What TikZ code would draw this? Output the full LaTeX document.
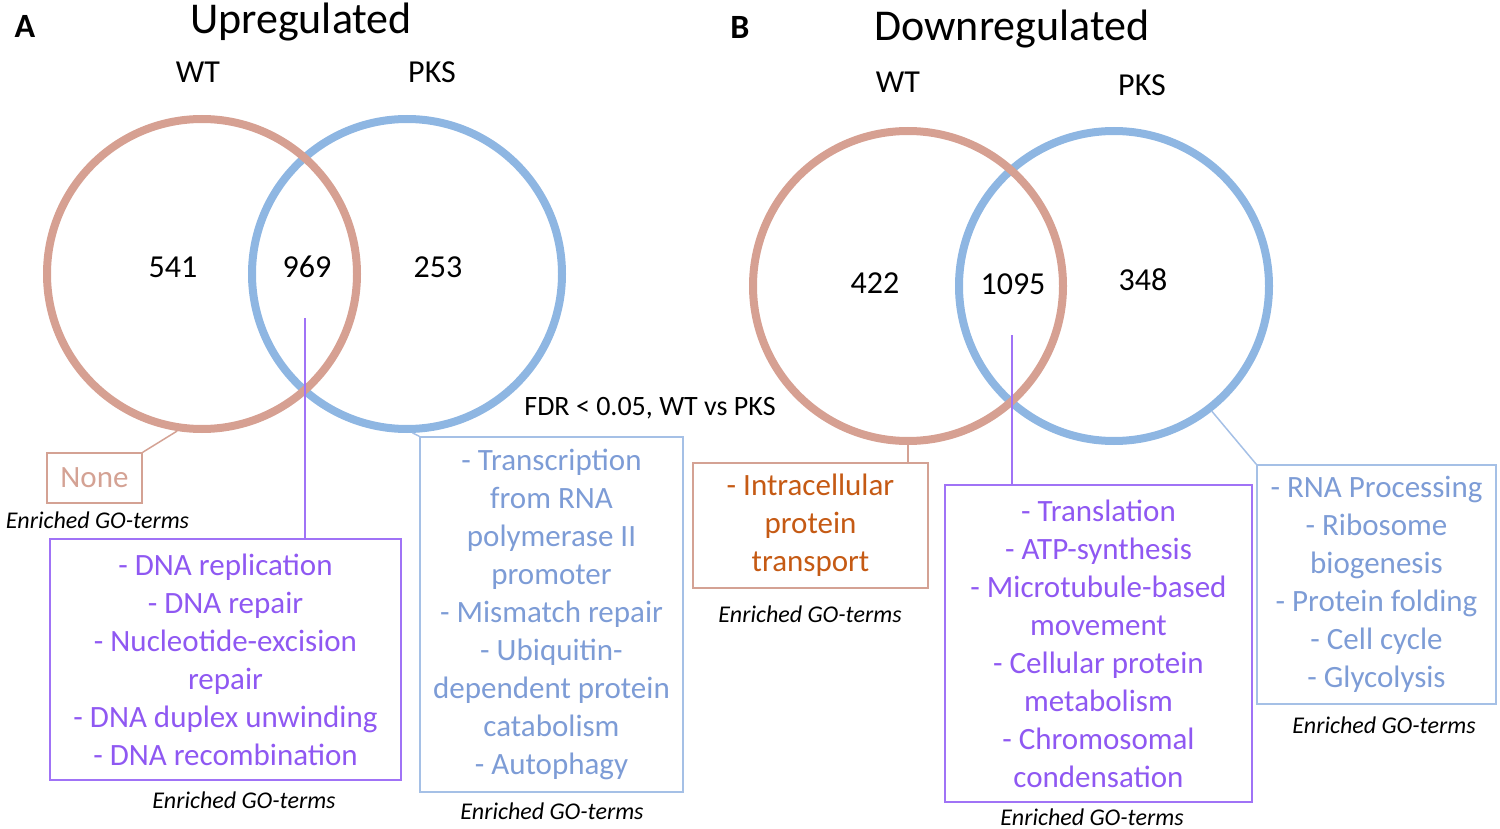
\documentclass[tikz,border=0pt]{standalone}
\usepackage{fontspec}
\setmainfont{Carlito}
\usepackage{tikz}
\usetikzlibrary{positioning}
\definecolor{wtrose}{RGB}{214, 160, 146}
\definecolor{pksblue}{RGB}{142, 182, 226}
\definecolor{nonerose}{RGB}{212, 162, 148}
\definecolor{gorust}{RGB}{197, 90, 20}
\definecolor{golilac}{RGB}{143, 88, 242}
\definecolor{lilacline}{RGB}{160, 115, 246}
\definecolor{gosky}{RGB}{125, 156, 214}
\definecolor{skyline}{RGB}{165, 192, 230}

\begin{document}
\begin{tikzpicture}[x=0.5pt, y=-0.5pt,
		vennset/.style={circle, draw, line width=4pt, minimum size=155pt, inner sep=0pt},
		setcount/.style={anchor=base, font=\fontsize{16}{19}\selectfont},
		setname/.style={anchor=base, font=\fontsize{16}{19}\selectfont},
		panellabel/.style={anchor=base, font=\fontsize{17}{20}\selectfont\bfseries},
		panelhead/.style={anchor=base, font=\fontsize{22}{27}\selectfont},
		goterm/.style={draw, line width=0.75pt, align=center, inner sep=0pt, font=\fontsize{15.5}{19}\selectfont},
		gocap/.style={anchor=base, font=\fontsize{12}{14}\selectfont\itshape},
		golink/.style={line width=0.75pt}]
			\useasboundingbox (0,0) rectangle (1500,829);

			% Headings
			\node[panellabel] (labA) at (25,38) {A};
			\node[panelhead] (headA) at (301,34) {Upregulated};
			\node[panellabel] (labB) at (740,39) {B};
			\node[panelhead] (headB) at (1012,41) {Downregulated};

			% Venn sets
			\node[vennset, draw=pksblue] (pksA) at (407,274) {};
			\node[vennset, draw=wtrose] (wtA) at (202,274) {};
			\node[vennset, draw=pksblue] (pksB) at (1114,286) {};
			\node[vennset, draw=wtrose] (wtB) at (908,286) {};

			\node[setname] (wtnameA) at (198,83) {WT};
			\node[setname] (pksnameA) at (432,83) {PKS};
			\node[setname] (wtnameB) at (898,93) {WT};
			\node[setname] (pksnameB) at (1142,96) {PKS};

			% Gene counts
			\foreach \v/\nx/\ny in {541/173/277, 969/307/277, 253/438/277, 422/875/293, 1095/1013/294, 348/1143/290}
				\node[setcount] (n\v) at (\nx,\ny) {\v};

			\node[anchor=base, font=\fontsize{14}{17}\selectfont] (fdr) at (650,415) {FDR < 0.05, WT vs PKS};

			% GO-term boxes
			\node[goterm, draw=nonerose, text=nonerose, minimum width=47.5pt, minimum height=25pt] (noneA) at (94.5,478) {None};
			\node[goterm, draw=lilacline, text=golilac, minimum width=175.5pt, minimum height=120.5pt] (goA) at (225.5,659.5)
				{- DNA replication\\ - DNA repair\\ - Nucleotide-excision\\ repair\\ - DNA duplex unwinding\\ - DNA recombination};
			\node[goterm, draw=skyline, text=gosky, minimum width=131.5pt, minimum height=177.5pt] (pkA) at (551.5,614.5)
				{- Transcription\\ from RNA\\ polymerase II\\ promoter\\ - Mismatch repair\\ - Ubiquitin-\\ dependent protein\\ catabolism\\ - Autophagy};
			\node[goterm, draw=nonerose, text=gorust, minimum width=117.5pt, minimum height=62.5pt] (wtgoB) at (810.5,525.5)
				{- Intracellular\\ protein\\ transport};
			\node[goterm, draw=lilacline, text=golilac, minimum width=153.5pt, minimum height=158.5pt] (goB) at (1098.5,643.5)
				{- Translation\\ - ATP-synthesis\\ - Microtubule-based\\ movement\\ - Cellular protein\\ metabolism\\ - Chromosomal\\ condensation};
			\node[goterm, draw=skyline, text=gosky, minimum width=119.5pt, minimum height=119.5pt] (pkB) at (1376.5,584.5)
				{- RNA Processing\\ - Ribosome\\ biogenesis\\ - Protein folding\\ - Cell cycle\\ - Glycolysis};

			\foreach \i/\cx/\cy in {1/97.5/528, 2/244/808, 3/552/819, 4/810/622, 5/1092/825, 6/1384/733}
				\node[gocap] (cap\i) at (\cx,\cy) {Enriched GO-terms};

			% Links from sets to boxes
			\coordinate (intA) at (305,318);
			\coordinate (intB) at (1012,335);
			\draw[golink, nonerose] (wtA.-99) -- (noneA.north east);
			\draw[golink, lilacline, line width=1pt] (intA) -- (intA |- goA.north);
			\draw[golink, skyline] (pksA.-88) -- (pkA.north west);
			\draw[golink, nonerose] (wtB.south) -- (wtB.south |- wtgoB.north);
			\draw[golink, lilacline, line width=1pt] (intB) -- (intB |- goB.north);
			\draw[golink, skyline] (pksB.-52) -- (pkB.north west);

		\end{tikzpicture}
\end{document}
